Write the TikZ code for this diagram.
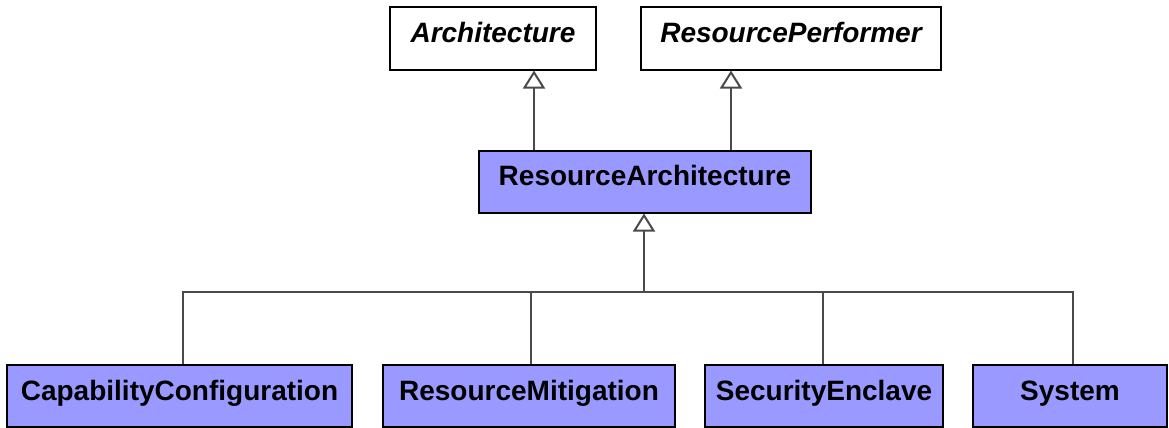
\documentclass[tikz,border=0pt]{standalone}
\usepackage{fontspec}
\setmainfont{Liberation Sans}
\usetikzlibrary{arrows.meta,positioning,calc}
\definecolor{classblue}{HTML}{9999FF}
\definecolor{linkgray}{HTML}{4A4A4A}
\begin{document}
\begin{tikzpicture}[x=1pt, y=-1pt,
  cls/.style={draw=black, line width=2pt, fill=classblue, inner sep=0pt, text height=35pt, text depth=27pt, font=\fontsize{28}{33}\selectfont\bfseries},
  abs/.style={cls, fill=white, font=\fontsize{28}{33}\selectfont\bfseries\itshape},
  gen/.style={-{Triangle[open, length=18pt, width=22pt, line width=2pt]}, linkgray, line width=2.4pt},
  lnk/.style={linkgray, line width=2.4pt}]
\useasboundingbox (0,0) rectangle (1169,428);
\node[abs, minimum width=206pt] (arch) at (493,38.5) {Architecture};
\node[abs, minimum width=300pt] (perf) at (791,38.5) {ResourcePerformer};
\node[cls, minimum width=332pt] (resarch) at (645,181.5) {ResourceArchitecture};
\node[cls, minimum width=345pt] (capcfg) at (179.5,396) {CapabilityConfiguration};
\node[cls, minimum width=292pt] (resmit) at (529,396) {ResourceMitigation};
\node[cls, minimum width=238pt] (secenc) at (824,396) {SecurityEnclave};
\node[cls, minimum width=194pt] (system) at (1070,396) {System};
% generalisation links
\draw[gen] ([xshift=-111pt]resarch.north) -- ([xshift=-111pt]resarch.north |- arch.south);
\draw[gen] ([xshift=86pt]resarch.north) -- ([xshift=86pt]resarch.north |- perf.south);
\coordinate (bus) at (644,292);
\draw[lnk] ([xshift=3.5pt]capcfg.north) |- ([xshift=3pt]system.north |- bus) -- ([xshift=3pt]system.north);
\draw[lnk] ([xshift=2pt]resmit.north) -- ([xshift=2pt]resmit.north |- bus);
\draw[lnk] ([xshift=-1pt]secenc.north) -- ([xshift=-1pt]secenc.north |- bus);
\draw[gen] (bus) -- (bus |- resarch.south);
\end{tikzpicture}
\end{document}
